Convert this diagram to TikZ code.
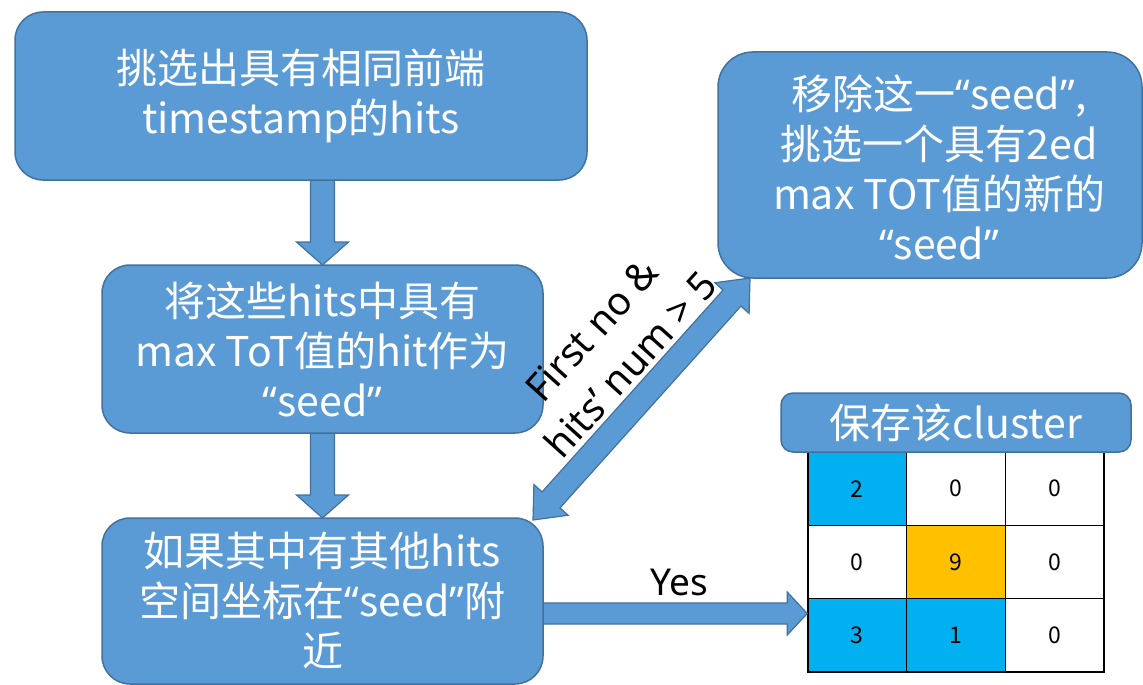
\documentclass[tikz,border=0pt]{standalone}
\usepackage{fontspec}
\setmainfont{Noto Sans CJK SC}
\newfontfamily\qfont{Noto Sans}
\usetikzlibrary{calc}

\definecolor{boxblue}{HTML}{5B9BD5}
\definecolor{boxline}{HTML}{41719C}
\definecolor{cellblue}{HTML}{00B0F0}
\definecolor{cellorange}{HTML}{FFC000}

% Latin-style curly quotes
\newcommand\oq{{\qfont “}}
\newcommand\cq{{\qfont ”}}

\tikzset{
  flowbox/.style={draw=boxline, fill=boxblue, line width=1.5pt,
    rounded corners=28pt, text=white, align=center, inner sep=0pt,
    font=\fontsize{41}{50}\selectfont},
  boxtext/.style={text=white, align=center, inner sep=0pt,
    font=\fontsize{41}{50}\selectfont},
  cell/.style={draw=black, line width=1.5pt, minimum width=98.67pt,
    minimum height=73.33pt, inner sep=0pt, font=\fontsize{23}{23}\selectfont},
  blockarrow/.style={draw=boxline, fill=boxblue, line width=1.2pt, line join=miter},
  edgelabel/.style={text=black, align=center, inner sep=0pt,
    font=\qfont\fontsize{39}{52}\selectfont},
}

% single block arrow: from, to, half shaft, half head, head length
\newcommand\blockarr[5]{%
  \coordinate (ba-h) at ($(#2)!#5!(#1)$);
  \filldraw[blockarrow] ($(#1)!#3!90:(#2)$) -- ($(ba-h)!#3!90:(#2)$)
    -- ($(ba-h)!#4!90:(#2)$) -- (#2) -- ($(ba-h)!#4!-90:(#2)$)
    -- ($(ba-h)!#3!-90:(#2)$) -- ($(#1)!#3!-90:(#2)$) -- cycle;}

% double-headed block arrow: end, end, half shaft, half head, head length
\newcommand\blockarrboth[5]{%
  \coordinate (bb-a) at ($(#1)!#5!(#2)$);
  \coordinate (bb-b) at ($(#2)!#5!(#1)$);
  \filldraw[blockarrow] (#1) -- ($(bb-a)!#4!90:(#2)$) -- ($(bb-a)!#3!90:(#2)$)
    -- ($(bb-b)!#3!90:(#2)$) -- ($(bb-b)!#4!90:(#2)$) -- (#2)
    -- ($(bb-b)!#4!-90:(#2)$) -- ($(bb-b)!#3!-90:(#2)$)
    -- ($(bb-a)!#3!-90:(#2)$) -- ($(bb-a)!#4!-90:(#2)$) -- cycle;}

\begin{document}
\begin{tikzpicture}[x=1pt,y=-1pt]
\useasboundingbox (0,0) rectangle (1143,685);

% result grid
\node[cell, fill=cellblue]   (c11) at (857.33,488.67) {2};
\node[cell]                  (c12) at (956,488.67)    {0};
\node[cell]                  (c13) at (1054.67,488.67){0};
\node[cell]                  (c21) at (857.33,562)    {0};
\node[cell, fill=cellorange] (c22) at (956,562)       {9};
\node[cell]                  (c23) at (1054.67,562)   {0};
\node[cell, fill=cellblue]   (c31) at (857.33,635.33) {3};
\node[cell, fill=cellblue]   (c32) at (956,635.33)    {1};
\node[cell]                  (c33) at (1054.67,635.33){0};

% centres of the flow boxes (drawn after the arrows)
\path (301,96)   coordinate (p1)
      (322.5,349) coordinate (p2)
      (322.5,601) coordinate (p3)
      (930,165)   coordinate (p4);

% arrows
\coordinate (a1s) at (322.5,178);
\coordinate (a1e) at (322.5,265);
\coordinate (a2s) at (322.5,431);
\coordinate (a2e) at (322.5,518);
\blockarr{a1s}{a1e}{12pt}{26pt}{23pt}
\blockarr{a2s}{a2e}{12pt}{26pt}{23pt}

\coordinate (ys) at (540,613.5);
\coordinate (ye) at (ys -| c31.west);
\blockarr{ys}{ye}{10.5pt}{21.5pt}{20pt}

\coordinate (dl) at (533,520);
\coordinate (du) at (750,278);
\blockarrboth{dl}{du}{12pt}{23pt}{27pt}

% flow boxes
\node[flowbox, minimum width=572pt, minimum height=168pt] (b1) at (p1)
  {挑选出具有相同前端\\timestamp的hits};
\node[flowbox, minimum width=441pt, minimum height=168pt] (b2) at (p2)
  {将这些hits中具有\\max ToT值的hit作为\\\oq seed\cq};
\node[flowbox, minimum width=441pt, minimum height=166pt] (b3) at (p3)
  {如果其中有其他hits\\空间坐标在\oq seed\cq 附\\近};
\node[flowbox, rounded corners=35pt, minimum width=424pt, minimum height=226pt] (b4) at (p4) {};
\node[boxtext] (t4) at ($(b4.center)+(9,2)$)
  {移除这一\oq seed\cq,\\挑选一个具有2ed\\max TOT值的新的\\\oq seed\cq};
\node[flowbox, rounded corners=12pt, minimum width=350pt, minimum height=59pt]
  (b5) at (956,422.5) {保存该cluster};

% connector labels
\node[edgelabel, rotate=48] (l1) at (611,347) {First no \&\\hits’ num > 5};
\node[edgelabel, font=\qfont\fontsize{37}{37}\selectfont] (l2) at (679,582) {Yes};
\end{tikzpicture}
\end{document}
